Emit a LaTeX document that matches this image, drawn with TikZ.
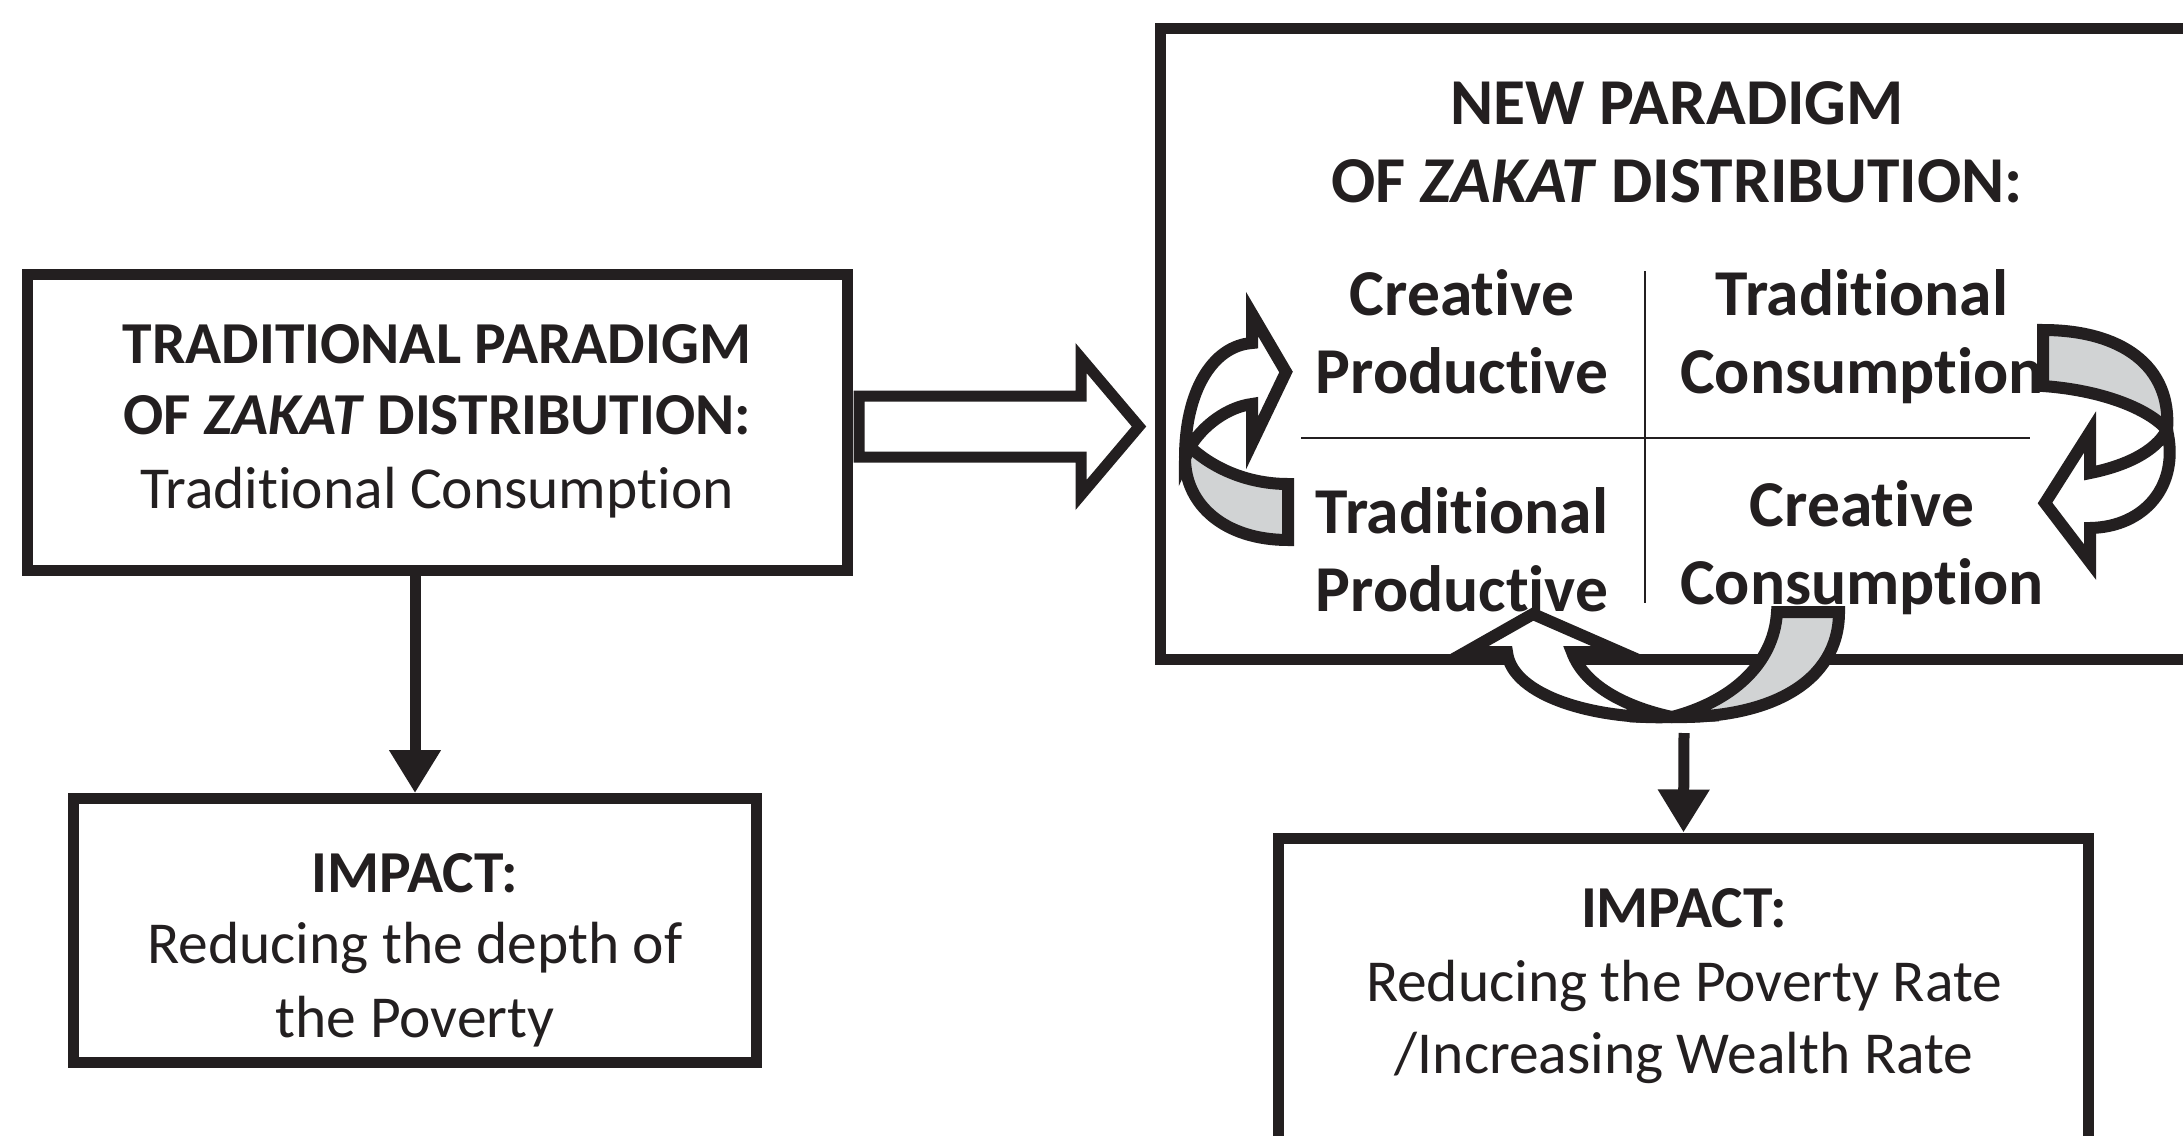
\documentclass[tikz,border=0pt]{standalone}
\usepackage{fontspec}
\setmainfont{Carlito}
\newcommand{\nti}{t\kern0pt i}
\usetikzlibrary{arrows.meta,calc}
\definecolor{ink}{HTML}{231F20}
\definecolor{band}{HTML}{D1D3D4}
\begin{document}
\begin{tikzpicture}[x=1pt,y=-1pt,
  box/.style={draw=ink, line width=11pt, fill=white, inner sep=0pt},
  big/.style={font=\fontsize{59.5}{70}\selectfont\bfseries, text=ink, anchor=base, inner sep=0pt},
  reg/.style={font=\fontsize{59.5}{70}\selectfont, text=ink, anchor=base, inner sep=0pt},
  quad/.style={font=\fontsize{65.5}{78}\selectfont\bfseries, text=ink, anchor=base, inner sep=0pt},
  conn/.style={draw=ink, line width=11pt, -{Triangle[width=49pt,length=43pt]}},
  ribbon/.style={draw=ink, line width=12pt, line join=miter, miter limit=10},
  divider/.style={draw=ink, line width=2.5pt}]
\useasboundingbox (0,0) rectangle (2183,1135);
\clip (0,0) rectangle (2183,1135);
\fill[white] (0,0) rectangle (2183,1135);

% boxes
\node[box, minimum width=820pt, minimum height=296pt] (L) at (437,422) {};
\node[box, minimum width=683pt, minimum height=264pt] (LI) at (415,930.5) {};
\node[box, minimum width=1040pt, minimum height=631pt] (N) at (1680,343.5) {};
\node[box, minimum width=810pt, minimum height=330pt] (RI) at (1683.5,1003) {};

% left box text
\node[big] (l1) at (437,363) {TRADITIONAL PARADIGM};
\node[big] (l2) at (437,434) {OF \textit{ZAKAT} DISTRIBUTION:};
\node[reg] (l3) at (437,508) {Tradi\nti{}onal Consump\nti{}on};

% left impact
\node[big] (i1) at (415,892) {IMPACT:};
\node[reg] (i2) at (415,963) {Reducing the depth of};
\node[reg] (i3) at (415,1037) {the Poverty};

% right impact
\node[big] (r1) at (1684,927) {IMPACT:};
\node[reg] (r2) at (1684,1001) {Reducing the Poverty Rate};
\node[reg] (r3) at (1684,1073) {/Increasing Wealth Rate};

% new paradigm
\node[quad] (n1) at (1677,124) {NEW PARADIGM};
\node[quad] (n2) at (1677,202) {OF \textit{ZAKAT} DISTRIBUTION:};
\node[quad] (q1) at (1462,315) {Crea\nti{}ve};
\node[quad] (q2) at (1462,393) {Produc\nti{}ve};
\node[quad] (q3) at (1862,315) {Tradi\nti{}onal};
\node[quad] (q4) at (1862,393) {Consump\nti{}on};
\node[quad] (q5) at (1462,533) {Tradi\nti{}onal};
\node[quad] (q6) at (1462,611) {Produc\nti{}ve};
\node[quad] (q7) at (1862,526) {Crea\nti{}ve};
\node[quad] (q8) at (1862,604) {Consump\nti{}on};

\draw[divider] (1645,271) -- (1645,603);
\draw[divider] (1301,438) -- (2030,438);

% hollow block arrow
\draw[ribbon, line width=11pt, fill=white] (859,396) -- (1081,396) -- (1081,358) -- (1139,426.5) -- (1081,495) -- (1081,457) -- (859,457) -- cycle;

% left curved arrow
\draw[ribbon, fill=band] (1190,447) .. controls (1215,470) and (1250,484) .. (1288,484) -- (1288,540) .. controls (1225,540) and (1185,505) .. (1185,458) -- cycle;
\draw[ribbon, fill=white] (1185,458) .. controls (1185,392) and (1212,346) .. (1252,343) -- (1252,314) -- (1286,372) -- (1252,443) -- (1252,404) .. controls (1228,407) and (1203,425) .. (1190,447) -- cycle;

% right curved arrow
\draw[ribbon, fill=band] (2043,330) -- (2043,386) .. controls (2100,390) and (2148,408) .. (2167,430) .. controls (2172,365) and (2120,330) .. (2043,330) -- cycle;
\draw[ribbon, fill=white] (2167,430) .. controls (2180,485) and (2145,527) .. (2090,528) -- (2090,562) -- (2045,503) -- (2090,432) -- (2090,473) .. controls (2125,466) and (2155,452) .. (2167,430) -- cycle;

% bottom curved arrow
\draw[ribbon, fill=band] (1777,612) -- (1839,612) .. controls (1839,682) and (1770,719) .. (1672,717) .. controls (1730,702) and (1774,665) .. (1777,612) -- cycle;
\draw[ribbon, fill=white] (1672,717) .. controls (1598,720) and (1512,697) .. (1507,652) -- (1466,652) -- (1533,614) -- (1620,652) -- (1572,652) .. controls (1585,688) and (1630,708) .. (1672,717) -- cycle;

% connectors
\draw[conn] (L.south -| LI.north) -- (LI.north);
\coordinate (rs) at (1684,733);
\draw[conn] (rs) -- (RI.north);
\end{tikzpicture}
\end{document}
